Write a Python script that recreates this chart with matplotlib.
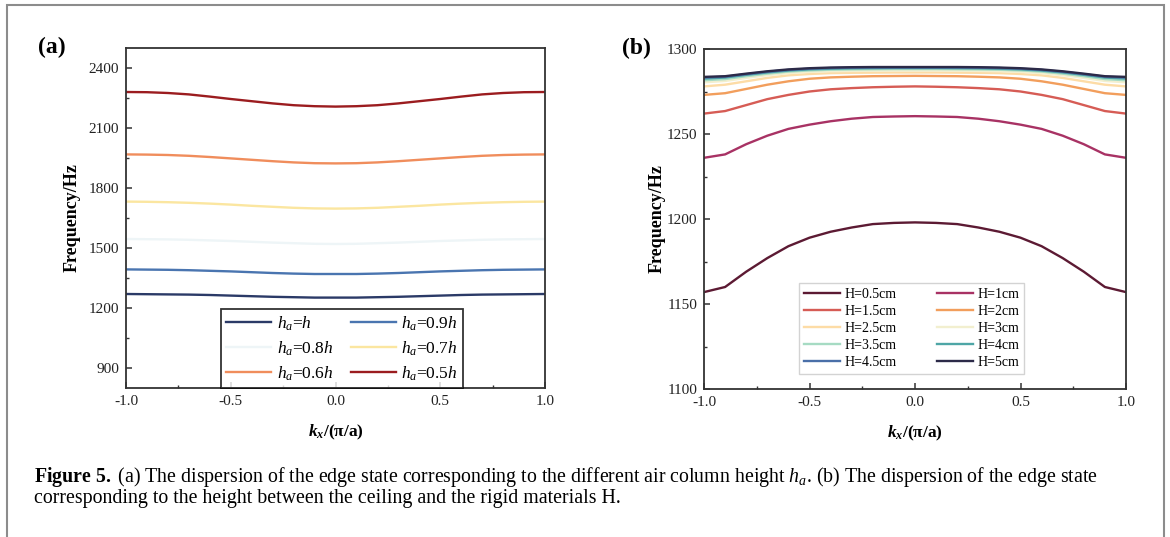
import matplotlib
matplotlib.use("Agg")
import matplotlib.pyplot as plt
from matplotlib.patches import Rectangle
from matplotlib.ticker import MultipleLocator

plt.rcParams['font.family'] = ['Liberation Serif', 'DejaVu Serif']
plt.rcParams['mathtext.fontset'] = 'custom'
plt.rcParams['mathtext.rm'] = 'Liberation Serif'
plt.rcParams['mathtext.it'] = 'Liberation Serif:italic'
plt.rcParams['mathtext.bf'] = 'Liberation Serif:bold'
plt.rcParams['mathtext.bfit'] = 'Liberation Serif:italic:bold'

# wave vector kx/(pi/a)
k = [-1.0, -0.9, -0.8, -0.7, -0.6, -0.5, -0.4, -0.3, -0.2, -0.1, 0.0,
     0.1, 0.2, 0.3, 0.4, 0.5, 0.6, 0.7, 0.8, 0.9, 1.0]

# panel (a): air column height ha
labels_a = [r'$h_a$=$h$', r'$h_a$=0.9$h$', r'$h_a$=0.8$h$',
            r'$h_a$=0.7$h$', r'$h_a$=0.6$h$', r'$h_a$=0.5$h$']
colors_a = ['#2b3a67', '#4a75b0', '#eef5f7', '#fbe6a0', '#f08d5c', '#9b1c1f']
f_h = [1270, 1269, 1268, 1267, 1265, 1262, 1259, 1256, 1254, 1252, 1252,
       1252, 1254, 1256, 1259, 1262, 1265, 1267, 1268, 1269, 1270]
f_09h = [1393, 1392, 1391, 1389, 1386, 1383, 1379, 1375, 1372, 1370, 1370,
         1370, 1372, 1375, 1379, 1383, 1386, 1389, 1391, 1392, 1393]
f_08h = [1545, 1544, 1543, 1541, 1538, 1535, 1531, 1527, 1524, 1521, 1520,
         1521, 1524, 1527, 1531, 1535, 1538, 1541, 1543, 1544, 1545]
f_07h = [1732, 1731, 1729, 1726, 1722, 1717, 1711, 1706, 1701, 1698, 1697,
         1698, 1701, 1706, 1711, 1717, 1722, 1726, 1729, 1731, 1732]
f_06h = [1968, 1967, 1965, 1961, 1955, 1948, 1941, 1934, 1928, 1924, 1923,
         1924, 1928, 1934, 1941, 1948, 1955, 1961, 1965, 1967, 1968]
f_05h = [2280, 2279, 2275, 2268, 2257, 2245, 2234, 2223, 2214, 2209, 2207,
         2209, 2214, 2223, 2234, 2245, 2257, 2268, 2275, 2279, 2280]
series_a = [f_h, f_09h, f_08h, f_07h, f_06h, f_05h]

# panel (b): height between ceiling and rigid materials H
labels_b = ['H=0.5cm', 'H=1cm', 'H=1.5cm', 'H=2cm', 'H=2.5cm',
            'H=3cm', 'H=3.5cm', 'H=4cm', 'H=4.5cm', 'H=5cm']
colors_b = ['#5c1a33', '#a83264', '#d65c55', '#f29e5c', '#fddca6',
            '#f2efcf', '#a6dbc3', '#4ea6a6', '#4a6fa8', '#2c2a48']
f_05 = [1157, 1160, 1169, 1177, 1184, 1189, 1192.5, 1195, 1197, 1197.7, 1198,
        1197.7, 1197, 1195, 1192.5, 1189, 1184, 1177, 1169, 1160, 1157]
f_10 = [1236, 1238, 1244, 1249, 1253, 1255.5, 1257.5, 1259, 1260, 1260.3, 1260.5,
        1260.3, 1260, 1259, 1257.5, 1255.5, 1253, 1249, 1244, 1238, 1236]
f_15 = [1262, 1263.5, 1267, 1270.5, 1273, 1275, 1276.3, 1277, 1277.5, 1277.8, 1278,
        1277.8, 1277.5, 1277, 1276.3, 1275, 1273, 1270.5, 1267, 1263.5, 1262]
f_20 = [1273, 1274, 1276.5, 1279, 1281, 1282.5, 1283.3, 1283.7, 1284, 1284.1, 1284.2,
        1284.1, 1284, 1283.7, 1283.3, 1282.5, 1281, 1279, 1276.5, 1274, 1273]
f_25 = [1278, 1279, 1281, 1283, 1284.5, 1285.3, 1285.8, 1286, 1286.1, 1286.2, 1286.2,
        1286.2, 1286.1, 1286, 1285.8, 1285.3, 1284.5, 1283, 1281, 1279, 1278]
f_30 = [1280.4, 1281.2, 1283, 1284.6, 1285.8, 1286.5, 1286.9, 1287.1, 1287.2, 1287.3, 1287.3,
        1287.3, 1287.2, 1287.1, 1286.9, 1286.5, 1285.8, 1284.6, 1283, 1281.2, 1280.4]
f_35 = [1281.6, 1282.3, 1284, 1285.5, 1286.7, 1287.4, 1287.8, 1288, 1288.1, 1288.2, 1288.2,
        1288.2, 1288.1, 1288, 1287.8, 1287.4, 1286.7, 1285.5, 1284, 1282.3, 1281.6]
f_40 = [1282.6, 1283.2, 1284.8, 1286.2, 1287.3, 1288, 1288.4, 1288.6, 1288.7, 1288.8, 1288.8,
        1288.8, 1288.7, 1288.6, 1288.4, 1288, 1287.3, 1286.2, 1284.8, 1283.2, 1282.6]
f_45 = [1283.2, 1283.7, 1285.2, 1286.6, 1287.7, 1288.4, 1288.8, 1289, 1289.1, 1289.1, 1289.1,
        1289.1, 1289.1, 1289, 1288.8, 1288.4, 1287.7, 1286.6, 1285.2, 1283.7, 1283.2]
f_50 = [1283.6, 1284, 1285.5, 1286.9, 1288, 1288.7, 1289.1, 1289.3, 1289.4, 1289.4, 1289.4,
        1289.4, 1289.4, 1289.3, 1289.1, 1288.7, 1288, 1286.9, 1285.5, 1284, 1283.6]
series_b = [f_05, f_10, f_15, f_20, f_25, f_30, f_35, f_40, f_45, f_50]

W, H = 1170, 537
fig = plt.figure(figsize=(W / 100, H / 100), dpi=100)

# outer gray frame
fig.patches.append(Rectangle((7 / W, -0.1), (1164 - 7) / W, (H - 5) / H + 0.1,
                             transform=fig.transFigure, fill=False,
                             ec='#8c8c8c', lw=1.5))

ax1 = fig.add_axes([126 / W, (H - 388) / H, 419 / W, 340 / H])
ax2 = fig.add_axes([704 / W, (H - 389) / H, 422 / W, 340 / H])


def style(ax):
    for s in ax.spines.values():
        s.set_linewidth(1.3)
        s.set_color('#333333')
    ax.tick_params(which='both', direction='in', top=False, right=False,
                   labelsize=11, pad=5, color='#333333', labelcolor='#222222')
    ax.tick_params(which='major', length=4.5, width=1.1)
    ax.tick_params(which='minor', length=2.5, width=1.0)
    ax.set_xlim(-1, 1)
    ax.xaxis.set_major_locator(MultipleLocator(0.5))
    ax.xaxis.set_minor_locator(MultipleLocator(0.25))
    ax.xaxis.set_major_formatter(plt.FuncFormatter(lambda v, p: '%.1f' % v))
    ax.set_xlabel(r'$\mathbfit{k}_{\mathbfit{x}}$/(π/a)', fontsize=12.5, fontweight='bold')
    ax.xaxis.set_label_coords(0.5, -0.13)
    ax.xaxis.label.set_va('center')
    ax.set_ylabel('Frequency/Hz', fontsize=13, fontweight='bold')
    ax.yaxis.label.set_va('center')


def row_order(handles, labels, ncol, nrow):
    # legend filled row by row, like the original figure
    idx = [r * ncol + c for c in range(ncol) for r in range(nrow)]
    return [handles[i] for i in idx], [labels[i] for i in idx]


for y, c, lab in zip(series_a, colors_a, labels_a):
    ax1.plot(k, y, color=c, lw=1.7, label=lab)
style(ax1)
ax1.set_ylim(800, 2500)
ax1.yaxis.set_major_locator(MultipleLocator(300))
ax1.yaxis.set_minor_locator(MultipleLocator(150))
ax1.yaxis.set_label_coords(-0.129, 0.5)
h1, l1 = row_order(*ax1.get_legend_handles_labels(), 2, 3)
leg1 = ax1.legend(h1, l1, ncol=2, loc='lower left', bbox_to_anchor=(0.227, 0.0, 0.577, 0.24),
                  mode='expand', fontsize=12.5, frameon=True, fancybox=False,
                  handlelength=2.6, handletextpad=0.3, labelspacing=0.38,
                  borderpad=0.3, borderaxespad=0.0, columnspacing=1.0)
leg1.get_frame().set_edgecolor('black')
leg1.get_frame().set_linewidth(1.3)

for y, c, lab in zip(series_b, colors_b, labels_b):
    ax2.plot(k, y, color=c, lw=1.7, label=lab)
style(ax2)
ax2.set_ylim(1100, 1300)
ax2.yaxis.set_major_locator(MultipleLocator(50))
ax2.yaxis.set_minor_locator(MultipleLocator(25))
ax2.yaxis.set_label_coords(-0.111, 0.5)
h2, l2 = row_order(*ax2.get_legend_handles_labels(), 2, 5)
leg2 = ax2.legend(h2, l2, ncol=2, loc='lower left', bbox_to_anchor=(0.225, 0.044, 0.533, 0.265),
                  mode='expand', fontsize=10, frameon=True, fancybox=False,
                  handlelength=2.6, handletextpad=0.3, labelspacing=0.3,
                  borderpad=0.35, borderaxespad=0.0, columnspacing=1.0)
leg2.get_frame().set_edgecolor('#c8c8c8')
leg2.get_frame().set_linewidth(1.0)

fig.text(52 / W, 1 - 47 / H, '(a)', fontsize=17, fontweight='bold', ha='center', va='center')
fig.text(636 / W, 1 - 48 / H, '(b)', fontsize=17, fontweight='bold', ha='center', va='center')

cap1 = (r'$\mathbf{Figure\ 5.}$ (a) The dispersion of the edge state corresponding to the '
        r'different air column height $h_a$. (b) The dispersion of the edge state')
cap2 = 'corresponding to the height between the ceiling and the rigid materials H.'
fig.text(34 / W, 1 - 477 / H, cap1, fontsize=14.3, ha='left', va='center')
fig.text(34 / W, 1 - 498 / H, cap2, fontsize=14.3, ha='left', va='center')

fig.savefig('out.png', dpi=100)
